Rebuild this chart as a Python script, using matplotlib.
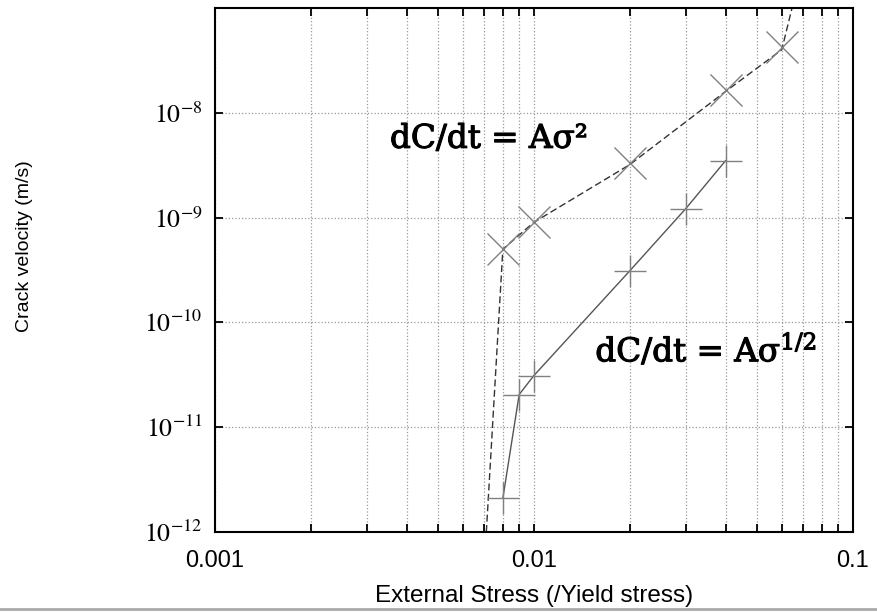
import numpy as np
import matplotlib
matplotlib.use("Agg")
import matplotlib.pyplot as plt
import matplotlib.patheffects as pe
from matplotlib.ticker import FixedLocator, FuncFormatter, LogLocator
from matplotlib.lines import Line2D

plt.rcParams['mathtext.fontset'] = 'stix'

# dC/dt = A sigma^2 series (x markers) and its dashed curve
sq_stress = [0.008, 0.01, 0.02, 0.04, 0.06]
sq_vel = [5e-10, 9e-10, 3.3e-9, 1.65e-8, 4.2e-8]
sq_fit_stress = [0.0071, 0.008, 0.01, 0.02, 0.04, 0.06, 0.066]
sq_fit_vel = [1e-12, 5e-10, 9e-10, 3.2e-9, 1.6e-8, 4.0e-8, 1.3e-7]

# dC/dt = A sigma^(1/2) series (+ markers), solid line
rt_stress = [0.008, 0.009, 0.01, 0.02, 0.03, 0.04]
rt_vel = [2.1e-12, 2.05e-11, 3.1e-11, 3.1e-10, 1.22e-9, 3.5e-9]

x_ticks = [0.001, 0.01, 0.1]
x_labels = ['0.001', '0.01', '0.1']
y_ticks = [1e-12, 1e-11, 1e-10, 1e-9, 1e-8]

fig = plt.figure(figsize=(8.77, 6.12), dpi=100)
ax = fig.add_axes([215 / 877, 1 - 532 / 612, 637.5 / 877, 524 / 612])
ax.set_xscale('log')
ax.set_yscale('log')
ax.set_xlim(0.001, 0.1)
ax.set_ylim(1e-12, 1e-7)

ax.plot(sq_fit_stress, sq_fit_vel, ls=(0, (5, 2.5)), color='#333333', lw=1.0)
ax.plot(sq_stress, sq_vel, ls='none', marker='x', ms=23, mew=1.0, color='#808080')
ax.plot(rt_stress, rt_vel, ls='-', color='#555555', lw=1.0,
        marker='+', ms=23, mew=1.0, mec='#808080')

ax.xaxis.set_major_locator(FixedLocator(x_ticks))
ax.xaxis.set_major_formatter(FuncFormatter(lambda v, p: x_labels[x_ticks.index(v)] if v in x_ticks else ''))
ax.xaxis.set_minor_locator(LogLocator(base=10, subs=np.arange(2, 10)))
ax.xaxis.set_minor_formatter(FuncFormatter(lambda v, p: ''))
ax.yaxis.set_major_locator(FixedLocator(y_ticks))
ax.yaxis.set_major_formatter(FuncFormatter(lambda v, p: r'$10^{%d}$' % round(np.log10(v))))
ax.yaxis.set_minor_locator(FixedLocator([]))

ax.tick_params(axis='x', which='both', direction='in', top=True, length=6, width=1.3, pad=13)
ax.tick_params(axis='y', which='both', direction='in', right=True, length=6, width=1.3, pad=9)
for lab in ax.get_xticklabels():
    lab.set_fontfamily('Liberation Sans')
    lab.set_fontsize(17)
for lab in ax.get_yticklabels():
    lab.set_fontsize(18.5)
for s in ax.spines.values():
    s.set_linewidth(1.5)

ax.grid(True, which='major', axis='both', ls=':', color='#999999', lw=0.9)
ax.grid(True, which='minor', axis='x', ls=':', color='#999999', lw=0.9)

# heavier look for the equation labels
heavy = [pe.withStroke(linewidth=0.8, foreground='black')]
ax.text(0.00354, 5.65e-9, 'dC/dt = A\u03c3\u00b2', fontsize=23.5, family='DejaVu Serif',
        ha='left', va='center', path_effects=heavy)
ax.text(0.0156, 5.4e-11, 'dC/dt = A\u03c3$^{1/2}$', fontsize=23.5, family='DejaVu Serif',
        math_fontfamily='dejavuserif', ha='left', va='center', path_effects=heavy)

fig.text(25 / 877, 1 - 246 / 612, 'Crack velocity (m/s)', rotation=90, fontsize=14,
         family='Liberation Sans', ha='center', va='center')
fig.text(534 / 877, 1 - 596 / 612, 'External Stress (/Yield stress)', fontsize=17.5,
         family='Liberation Sans', ha='center', va='center')

fig.add_artist(Line2D([0, 1], [1 - 609 / 612] * 2, transform=fig.transFigure,
                      color='#aaaaaa', lw=2))

fig.savefig('out.png', dpi=100)
